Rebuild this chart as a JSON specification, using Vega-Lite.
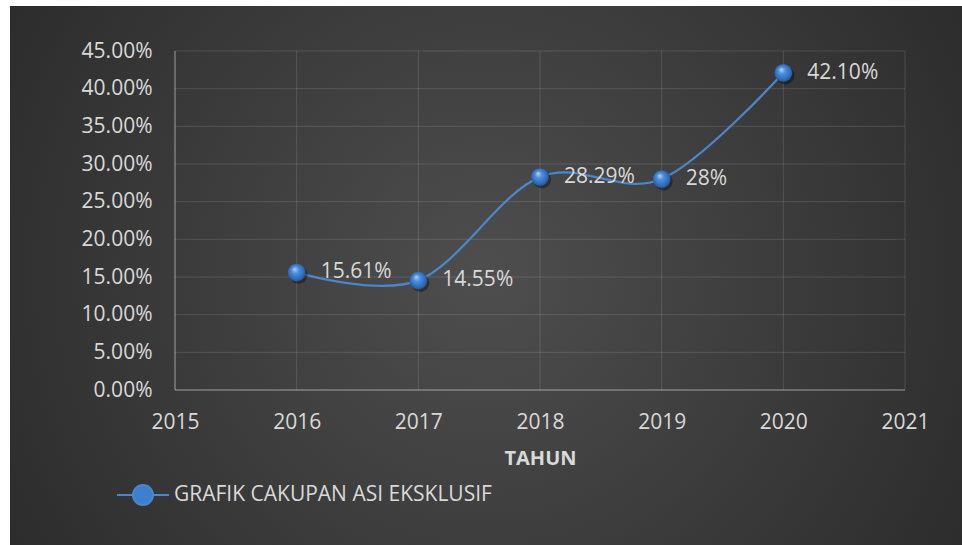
{
  "$schema": "https://vega.github.io/schema/vega-lite/v6.json",
  "width": 952,
  "height": 539,
  "autosize": {"type": "none"},
  "padding": {"left": 10, "top": 6, "right": 0, "bottom": 0},
  "background": "#ffffff",
  "config": {
    "view": {
      "stroke": null,
      "fill": {
        "gradient": "radial",
        "x1": 0.5, "y1": 0.5, "r1": 0,
        "x2": 0.5, "y2": 0.5, "r2": 0.75,
        "stops": [
          {"offset": 0, "color": "#4e4e4e"},
          {"offset": 1, "color": "#222222"}
        ]
      }
    },
    "font": "Open Sans"
  },
  "datasets": {
    "series": [
      {"year": 2016, "value": 0.1561, "label": "15.61%", "series": "GRAFIK CAKUPAN ASI EKSKLUSIF"},
      {"year": 2017, "value": 0.1455, "label": "14.55%", "series": "GRAFIK CAKUPAN ASI EKSKLUSIF"},
      {"year": 2018, "value": 0.2829, "label": "28.29%", "series": "GRAFIK CAKUPAN ASI EKSKLUSIF"},
      {"year": 2019, "value": 0.28, "label": "28%", "series": "GRAFIK CAKUPAN ASI EKSKLUSIF"},
      {"year": 2020, "value": 0.421, "label": "42.10%", "series": "GRAFIK CAKUPAN ASI EKSKLUSIF"}
    ],
    "grid": [
      {"x1": 2015, "x2": 2021, "y1": 0.05, "y2": 0.05},
      {"x1": 2015, "x2": 2021, "y1": 0.10, "y2": 0.10},
      {"x1": 2015, "x2": 2021, "y1": 0.15, "y2": 0.15},
      {"x1": 2015, "x2": 2021, "y1": 0.20, "y2": 0.20},
      {"x1": 2015, "x2": 2021, "y1": 0.25, "y2": 0.25},
      {"x1": 2015, "x2": 2021, "y1": 0.30, "y2": 0.30},
      {"x1": 2015, "x2": 2021, "y1": 0.35, "y2": 0.35},
      {"x1": 2015, "x2": 2021, "y1": 0.40, "y2": 0.40},
      {"x1": 2015, "x2": 2021, "y1": 0.45, "y2": 0.45},
      {"x1": 2016, "x2": 2016, "y1": 0, "y2": 0.45},
      {"x1": 2017, "x2": 2017, "y1": 0, "y2": 0.45},
      {"x1": 2018, "x2": 2018, "y1": 0, "y2": 0.45},
      {"x1": 2019, "x2": 2019, "y1": 0, "y2": 0.45},
      {"x1": 2020, "x2": 2020, "y1": 0, "y2": 0.45},
      {"x1": 2021, "x2": 2021, "y1": 0, "y2": 0.45}
    ],
    "axisLines": [
      {"x1": 2015, "x2": 2015, "y1": 0, "y2": 0.45},
      {"x1": 2015, "x2": 2021, "y1": 0, "y2": 0}
    ]
  },
  "layer": [
    {
      "data": {"name": "grid"},
      "mark": {"type": "rule", "stroke": "#ffffff", "strokeOpacity": 0.13, "strokeWidth": 1},
      "encoding": {
        "x": {
          "field": "x1", "type": "quantitative",
          "scale": {"domain": [2013.6438, 2021.4685], "nice": false, "zero": false},
          "axis": {
            "orient": "bottom", "offset": -155, "zindex": 1,
            "values": [2015, 2016, 2017, 2018, 2019, 2020, 2021],
            "format": "d", "domain": false, "ticks": false, "grid": false,
            "labelPadding": 21, "labelFlush": false, "labelOverlap": false,
            "labelFont": "Open Sans", "labelFontSize": 21, "labelColor": "#d9d9d9",
            "title": "TAHUN", "titleFont": "Open Sans", "titleFontSize": 20, "titleFontWeight": "bold",
            "titleColor": "#d9d9d9", "titleX": 530, "titleY": 68, "titleBaseline": "middle", "titleAlign": "center"
          }
        },
        "x2": {"field": "x2"},
        "y": {
          "field": "y1", "type": "quantitative",
          "scale": {"domain": [-0.20575, 0.50974], "nice": false, "zero": false},
          "axis": {
            "orient": "left", "offset": -165, "zindex": 1,
            "values": [0, 0.05, 0.1, 0.15, 0.2, 0.25, 0.3, 0.35, 0.4, 0.45],
            "format": ".2%", "domain": false, "ticks": false, "grid": false,
            "labelPadding": 23, "labelFlush": false, "labelOverlap": false,
            "labelFont": "Open Sans", "labelFontSize": 21, "labelColor": "#d9d9d9",
            "title": null
          }
        },
        "y2": {"field": "y2"}
      }
    },
    {
      "data": {"name": "axisLines"},
      "mark": {"type": "rule", "stroke": "#ffffff", "strokeOpacity": 0.35, "strokeWidth": 1.5},
      "encoding": {
        "x": {"field": "x1", "type": "quantitative"},
        "x2": {"field": "x2"},
        "y": {"field": "y1", "type": "quantitative"},
        "y2": {"field": "y2"}
      }
    },
    {
      "data": {"name": "series"},
      "mark": {"type": "line", "interpolate": "cardinal", "strokeWidth": 2.25},
      "encoding": {
        "x": {"field": "year", "type": "quantitative"},
        "y": {"field": "value", "type": "quantitative"},
        "color": {
          "field": "series", "type": "nominal",
          "scale": {"range": ["#4a86c8"]},
          "legend": {
            "orient": "none", "legendX": 112, "legendY": 468, "title": null, "padding": 0,
            "symbolType": "M-1.3,0H-0.5M0.5,0H1.3M-0.5,0A0.5,0.5,0,1,1,0.5,0A0.5,0.5,0,1,1,-0.5,0",
            "symbolSize": 1600, "symbolStrokeWidth": 2,
            "symbolFillColor": "#3f7fcf", "symbolStrokeColor": "#4a86c8",
            "labelFont": "Open Sans", "labelFontSize": 21, "labelColor": "#d9d9d9",
            "labelLimit": 600, "labelOffset": 10
          }
        }
      }
    },
    {
      "data": {"name": "series"},
      "mark": {"type": "point", "filled": true, "size": 330, "fill": "#000000", "opacity": 0.35, "stroke": null, "xOffset": 2, "yOffset": 2.5},
      "encoding": {
        "x": {"field": "year", "type": "quantitative"},
        "y": {"field": "value", "type": "quantitative"}
      }
    },
    {
      "data": {"name": "series"},
      "mark": {
        "type": "point", "filled": true, "size": 320, "opacity": 1, "stroke": null,
        "fill": {
          "gradient": "radial",
          "x1": 0.38, "y1": 0.3, "r1": 0,
          "x2": 0.5, "y2": 0.5, "r2": 0.55,
          "stops": [
            {"offset": 0, "color": "#b5d6fa"},
            {"offset": 0.35, "color": "#4d8fdc"},
            {"offset": 0.8, "color": "#2c68b5"},
            {"offset": 1, "color": "#1c4a85"}
          ]
        }
      },
      "encoding": {
        "x": {"field": "year", "type": "quantitative"},
        "y": {"field": "value", "type": "quantitative"}
      }
    },
    {
      "data": {"name": "series"},
      "mark": {"type": "text", "align": "left", "baseline": "middle", "dx": 24, "font": "Open Sans", "fontSize": 21, "color": "#d9d9d9"},
      "encoding": {
        "x": {"field": "year", "type": "quantitative"},
        "y": {"field": "value", "type": "quantitative"},
        "text": {"field": "label"}
      }
    }
  ]
}
